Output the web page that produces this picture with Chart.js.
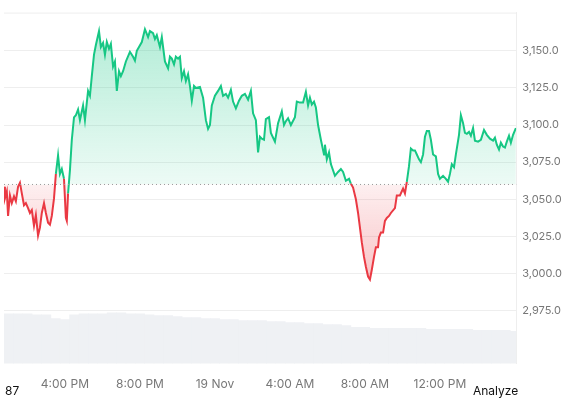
<!DOCTYPE html>
<html>
<head>
<meta charset="utf-8">
<script src="https://cdn.jsdelivr.net/npm/chart.js@4"></script>
<style>
  body { margin: 0; background: #fff; font-family: Inter, "Noto Sans", sans-serif; }
  #wrap { position: relative; width: 576px; height: 401px; }
  .foot { position: absolute; top: 383px; font-size: 12px; color: #111; }
</style>
</head>
<body>
<div id="wrap">
  <canvas id="grafica" width="576" height="401"></canvas>
  <div class="foot" style="left:5px">87</div>
  <div class="foot" style="left:473px">Analyze</div>
</div>
<script>
// Minutos desde las 12:00 PM del 18 Nov
const tiempos = [45,48,54,58,64,70,77,83,90,96,102,109,115,122,128,134,141,147,154,160,166,173,179,186,192,198,205,211,218,224,230,237,243,246,250,256,262,269,275,282,288,298,304,314,320,326,333,339,349,355,362,368,374,381,387,394,400,406,413,419,426,435,448,458,464,470,477,486,496,506,512,522,528,534,544,550,560,570,576,582,589,595,602,608,614,621,627,634,640,646,653,659,672,682,691,698,704,710,720,730,739,746,755,762,771,778,787,797,806,816,826,835,842,851,858,864,870,877,883,893,899,912,922,934,941,947,954,963,976,982,992,1002,1011,1018,1024,1030,1037,1043,1050,1059,1069,1072,1078,1085,1091,1104,1114,1123,1130,1139,1149,1155,1162,1171,1178,1184,1190,1197,1203,1210,1216,1222,1229,1235,1242,1245,1251,1258,1264,1270,1277,1283,1296,1302,1312,1322,1328,1334,1341,1347,1354,1360,1366,1373,1379,1386,1392,1398,1405,1411,1418,1427,1434,1440,1450,1459,1466,1472,1478,1485,1491,1501,1507,1514,1520,1526,1533,1539,1546,1552,1562,1571,1581,1590,1600,1610,1616,1622,1629,1635,1642,1648,1654,1661,1667,1674,1683];
const precios = [3058.5,3050.6,3055.2,3038.8,3052.6,3047.4,3052,3048.7,3058.5,3061.2,3054,3046,3047.4,3044.1,3040.8,3042.8,3032.2,3039.4,3025.6,3030.9,3040.8,3047.4,3040.8,3034.2,3032.9,3038.8,3050.6,3067.1,3079.6,3067.1,3070.4,3063.8,3037.5,3035.5,3054,3069.7,3090.1,3105.2,3106.6,3110.5,3103.3,3113.2,3103.3,3123,3119.7,3132.9,3147.4,3153.9,3163.2,3152.6,3155.3,3147.4,3155.9,3151.3,3154.6,3139.4,3142.8,3123,3136.2,3132.9,3136.2,3142.8,3149.3,3146,3143.4,3150,3152.6,3155.9,3164.5,3159.2,3163.2,3161.8,3157.9,3160.5,3152.6,3159.2,3142.8,3138.2,3146,3144.7,3140.8,3146,3144.7,3146,3131.6,3136.2,3129.6,3134.2,3126.3,3116.4,3126.3,3125,3125.7,3118.4,3103.3,3097.4,3100,3113.2,3119.7,3123,3126.3,3119.7,3121,3118.4,3123.7,3115.8,3111.2,3116.4,3119.7,3121,3117.1,3123,3107.9,3103.3,3081.6,3092.1,3090.8,3090.1,3104,3105.3,3094.7,3088.8,3101.3,3109.2,3100,3102.6,3104.6,3100,3105.3,3115.8,3115.1,3115.1,3122.4,3113.2,3118.4,3113.8,3115.8,3111.8,3100,3090.1,3080.2,3086.8,3076.9,3081.6,3073.7,3065.8,3068.4,3070.4,3068.4,3062.5,3063.8,3060.5,3057.9,3050,3040.8,3030.9,3021,3011.2,3004.6,2998,2996,3002.6,3011.2,3017.8,3017.8,3024.3,3027.6,3027.6,3035.5,3037.5,3038.8,3040.8,3044.1,3052.6,3052.6,3057.2,3054,3061.8,3072.3,3084.2,3082.9,3082.9,3080.2,3076.9,3075,3080.2,3092.1,3096,3096,3090.1,3080.2,3078.9,3067.1,3063.8,3065.8,3063.8,3061.8,3067.1,3073.7,3071.7,3080.2,3093.4,3106.6,3101.3,3094.7,3094.1,3095.4,3092.8,3098,3089.5,3088.8,3090.1,3096.7,3093.4,3090.8,3089.5,3091.5,3086.8,3083.5,3088.1,3085.5,3084.8,3088.8,3092.8,3088.1,3093.4,3098];

// Volumen (unidades relativas), una barra cada 30 min
const volTiempos = [60,90,120,150,180,210,240,270,300,330,360,390,420,450,480,510,540,570,600,630,660,690,720,750,780,810,840,870,900,930,960,990,1020,1050,1080,1110,1140,1170,1200,1230,1260,1290,1320,1350,1380,1410,1440,1470,1500,1530,1560,1590,1620,1650,1680];
const volumenes = [51,51,51,50,50,46,45,50,51,51,51,52,52,51,51,50,49,49,48,47,47,46,46,45,45,44,44,44,43,43,42,42,41,41,40,40,39,37,37,36,36,36,36,36,36,35,35,35,35,35,34,34,34,34,33];

const precioBase = 3060;
const ticksPrecio = [2975, 3000, 3025, 3050, 3075, 3100, 3125, 3150];
const ticksTiempo = [240, 480, 720, 960, 1200, 1440];
const etiquetasTiempo = ['4:00 PM', '8:00 PM', '19 Nov', '4:00 AM', '8:00 AM', '12:00 PM'];

const VERDE = '#16c784';
const ROJO = '#ea3943';

// Línea punteada del precio de apertura
const lineaBase = {
    id: 'lineaBase',
    afterDatasetsDraw(chart) {
        const { ctx, chartArea, scales } = chart;
        const y = scales.y.getPixelForValue(precioBase);
        ctx.save();
        ctx.strokeStyle = '#999';
        ctx.lineWidth = 1;
        ctx.setLineDash([1, 3]);
        ctx.beginPath();
        ctx.moveTo(chartArea.left, y);
        ctx.lineTo(chartArea.right, y);
        ctx.stroke();
        ctx.restore();
    }
};

function gradienteVerde(context) {
    const { ctx, chartArea, scales } = context.chart;
    if (!chartArea) return 'rgba(22,199,132,0.2)';
    const yBase = scales.y.getPixelForValue(precioBase);
    const g = ctx.createLinearGradient(0, chartArea.top, 0, yBase);
    g.addColorStop(0, 'rgba(22,199,132,0.35)');
    g.addColorStop(1, 'rgba(22,199,132,0.08)');
    return g;
}

function gradienteRojo(context) {
    const { ctx, chartArea, scales } = context.chart;
    if (!chartArea) return 'rgba(234,57,67,0.2)';
    const yBase = scales.y.getPixelForValue(precioBase);
    const g = ctx.createLinearGradient(0, yBase, 0, scales.y.getPixelForValue(2996));
    g.addColorStop(0, 'rgba(234,57,67,0.08)');
    g.addColorStop(1, 'rgba(234,57,67,0.3)');
    return g;
}

const ctx = document.getElementById('grafica').getContext('2d');
new Chart(ctx, {
    data: {
        datasets: [{
            type: 'line',
            data: tiempos.map((t, i) => ({ x: t, y: precios[i] })),
            borderWidth: 2,
            borderColor: VERDE,
            pointRadius: 0,
            tension: 0,
            segment: {
                borderColor: c => ((c.p0.parsed.y + c.p1.parsed.y) / 2 < precioBase ? ROJO : VERDE)
            },
            fill: { target: { value: precioBase }, above: gradienteVerde, below: gradienteRojo },
            yAxisID: 'y',
            order: 1
        }, {
            type: 'bar',
            data: volTiempos.map((t, i) => ({ x: t, y: volumenes[i] })),
            backgroundColor: '#eff1f4',
            barPercentage: 1,
            categoryPercentage: 1,
            yAxisID: 'yVol',
            order: 2
        }]
    },
    options: {
        responsive: false,
        animation: false,
        layout: { padding: { left: 4, right: 8, top: 5, bottom: 3 } },
        plugins: { legend: { display: false }, tooltip: { enabled: false } },
        scales: {
            x: {
                type: 'linear',
                min: 45,
                max: 1684,
                offset: false,
                afterBuildTicks: axis => { axis.ticks = ticksTiempo.map(v => ({ value: v })); },
                ticks: {
                    callback: v => etiquetasTiempo[ticksTiempo.indexOf(v)],
                    color: '#777',
                    font: { family: 'Inter', size: 12 },
                    maxRotation: 0,
                    padding: 6
                },
                grid: { display: false },
                border: { display: false }
            },
            y: {
                position: 'right',
                min: 2939.4,
                max: 3175.7,
                afterBuildTicks: axis => { axis.ticks = ticksPrecio.map(v => ({ value: v })); },
                ticks: {
                    callback: v => v.toLocaleString('en-US', { minimumFractionDigits: 1, maximumFractionDigits: 1 }),
                    color: '#777',
                    font: { family: 'Inter', size: 11 },
                    padding: 6
                },
                grid: { color: '#eeeeee', drawTicks: false },
                border: { display: true, color: '#eeeeee' }
            },
            yVol: {
                display: false,
                min: 0,
                max: 359
            }
        }
    },
    plugins: [lineaBase, {
        id: 'bordeSuperior',
        beforeDatasetsDraw(chart) {
            const { ctx, chartArea } = chart;
            ctx.save();
            ctx.strokeStyle = '#eeeeee';
            ctx.beginPath();
            ctx.moveTo(chartArea.left, chartArea.top + 0.5);
            ctx.lineTo(chartArea.right, chartArea.top + 0.5);
            ctx.stroke();
            ctx.restore();
        }
    }]
});
</script>
</body>
</html>
